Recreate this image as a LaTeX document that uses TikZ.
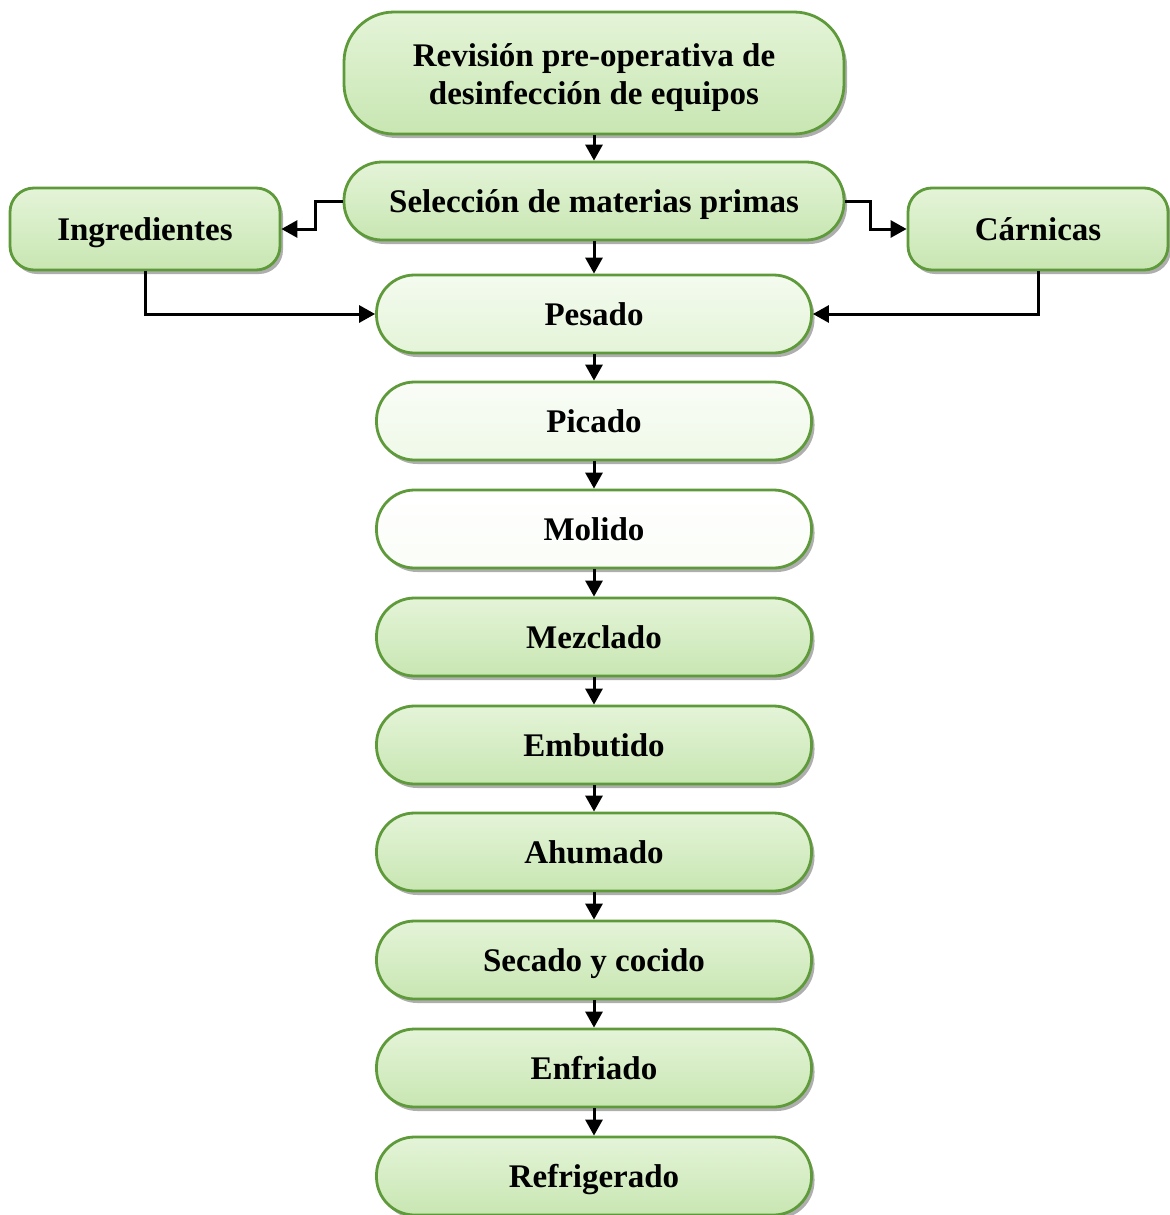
\documentclass[tikz,border=0pt]{standalone}
\usepackage{fontspec}
\setmainfont{Liberation Serif}
\usetikzlibrary{arrows.meta,shadows}
\definecolor{gborder}{HTML}{5E9A3A}
\definecolor{gbase}{HTML}{C8E6B2}
\definecolor{glight}{HTML}{E4F4D8}
\tikzset{
  x=0.5pt,y=-0.5pt,
  procbox/.style={draw=gborder,line width=1.4pt,rounded corners=19pt,
    top color=glight,bottom color=gbase,
    drop shadow={shadow xshift=1.5pt,shadow yshift=-2pt,opacity=0.45,fill=black!70},
    font=\fontsize{16.5}{19}\selectfont\bfseries,align=center,inner sep=0pt},
  onel/.style={text height=13pt,text depth=2pt},
  mainbox/.style={procbox,onel,minimum width=217.5pt,minimum height=39pt},
  sidebox/.style={procbox,onel,rounded corners=12pt,minimum width=135pt,minimum height=41pt},
  conn/.style={line width=1.5pt,-{Triangle[length=8pt,width=8.5pt]}}
}
\begin{document}
\begin{tikzpicture}
\useasboundingbox (0,0) rectangle (1169,1215);
\node[procbox,rounded corners=25pt,minimum width=250pt,minimum height=61pt] (rev) at (594,73) {\rule{0pt}{16.5pt}Revisión pre-operativa de\\desinfección de equipos};
\node[procbox,onel,minimum width=250pt,minimum height=39pt] (sel) at (594,201) {Selección de materias primas};
\node[sidebox] (ing) at (145,229) {Ingredientes};
\node[sidebox,minimum width=130pt] (car) at (1038,229) {Cárnicas};
\node[mainbox,top color=white!60!glight,bottom color=glight] (pes) at (594,314) {Pesado};
\node[mainbox,top color=white!80!glight,bottom color=white!40!glight] (pic) at (594,421) {Picado};
\node[mainbox,top color=white,bottom color=white!80!glight] (mol) at (594,529) {Molido};
\node[mainbox] (mez) at (594,637) {Mezclado};
\node[mainbox] (emb) at (594,745) {Embutido};
\node[mainbox] (ahu) at (594,852) {Ahumado};
\node[mainbox] (sec) at (594,960) {Secado y cocido};
\node[mainbox] (enf) at (594,1068) {Enfriado};
\node[mainbox] (ref) at (594,1176) {Refrigerado};

\draw[conn] (rev.south) -- (sel.north);
\draw[conn] (sel.south) -- (pes.north);
\draw[conn] (pes) -- (pic);
\draw[conn] (pic) -- (mol);
\draw[conn] (mol) -- (mez);
\draw[conn] (mez) -- (emb);
\draw[conn] (emb) -- (ahu);
\draw[conn] (ahu) -- (sec);
\draw[conn] (sec) -- (enf);
\draw[conn] (enf) -- (ref);

\draw[conn] (sel.west) -| ++(-27,0) |- (ing.east);
\draw[conn] (sel.east) -| ++(25,0) |- (car.west);
\draw[conn] (ing.south) |- (pes.west);
\draw[conn] (car.south) |- (pes.east);
\end{tikzpicture}
\end{document}
